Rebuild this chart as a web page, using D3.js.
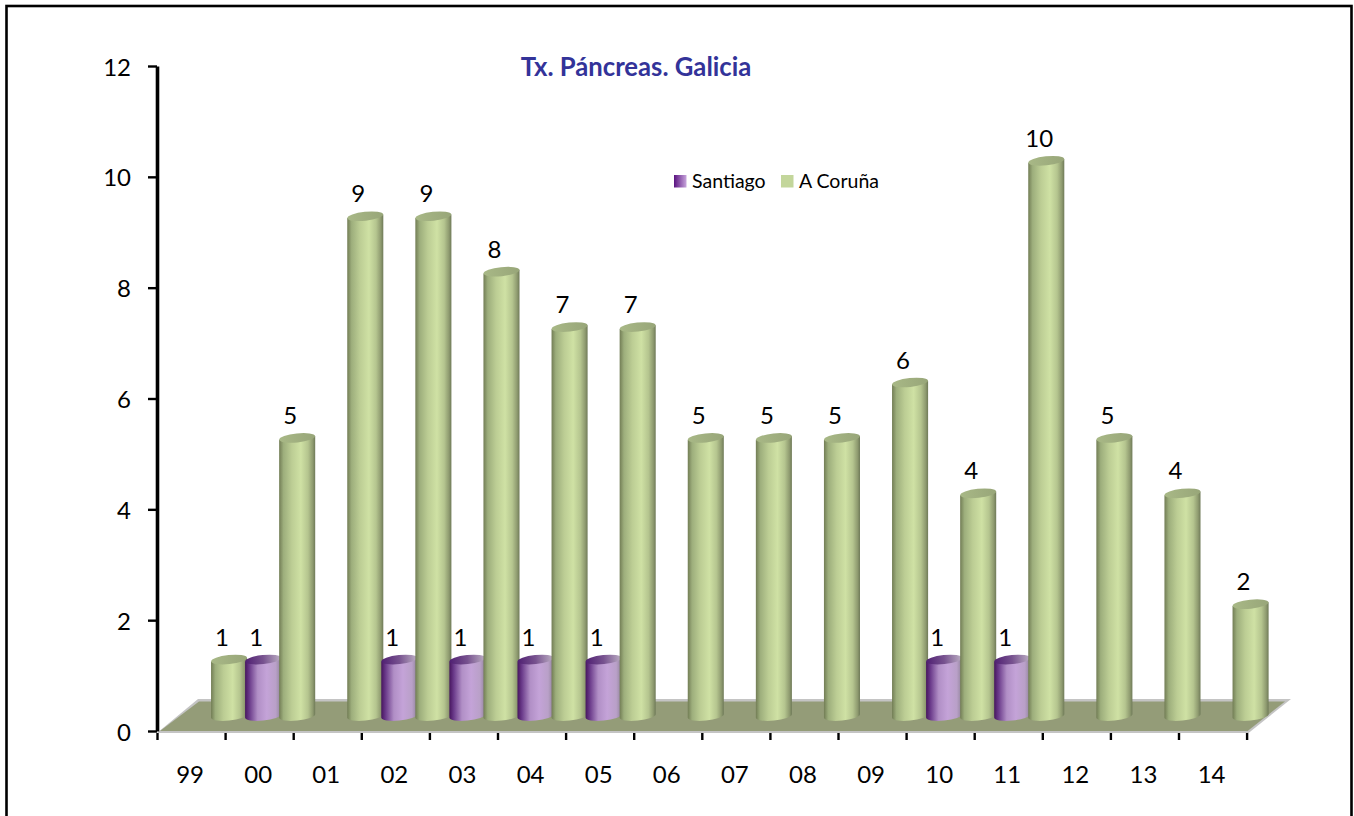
<!DOCTYPE html>
<meta charset="utf-8">
<style>
    body { margin: 0; background: #fff; }
    text { font-family: Lato, sans-serif; fill: #000; }
    .axis path, .axis line { stroke: #000; }
</style>

<svg width="1354" height="816"></svg>

<script src="https://d3js.org/d3.v7.min.js"></script>

<script>
    var years = ["99", "00", "01", "02", "03", "04", "05", "06", "07", "08", "09", "10", "11", "12", "13", "14"];
    var seriesNames = ["Santiago", "A Coruña"];
    var santiago = [0, 1, 0, 1, 1, 1, 1, 0, 0, 0, 0, 1, 1, 0, 0, 0];
    var coruna = [1, 5, 9, 9, 8, 7, 7, 5, 5, 5, 6, 4, 10, 5, 4, 2];
    var yTicks = [0, 2, 4, 6, 8, 10, 12];

    var svg = d3.select("svg"),
        width = +svg.attr("width"),
        height = +svg.attr("height");

    var x0 = 157, x1 = 1246.6, y0 = 731, yTop = 66;
    var depthX = 20, depthY = 15;   // how far the bars sit back on the floor

    var x = d3.scaleBand().domain(years).range([x0, x1]);
    var xSeries = d3.scaleBand().domain(seriesNames).range([depthX, depthX + x.bandwidth()]);
    var xEdges = d3.scaleLinear().domain([0, years.length]).range([x0, x1]);
    var y = d3.scaleLinear().domain([0, 12]).range([y0, yTop]);

    function gradient(id, stops) {
        var g = defs.append("linearGradient").attr("id", id);
        stops.forEach(function (s) {
            g.append("stop").attr("offset", s[0]).attr("stop-color", s[1]);
        });
    }

    var defs = svg.append("defs");
    gradient("greenBody", [[0, "#727d55"], [0.12, "#9dae7c"], [0.35, "#bccd94"], [0.6, "#cfe1a4"], [0.8, "#b5c58f"], [0.93, "#8f9b70"], [1, "#6f7a58"]]);
    gradient("greenCap", [[0, "#a8b886"], [1, "#98a679"]]);
    gradient("purpleBody", [[0, "#47155f"], [0.12, "#6a3a8a"], [0.35, "#b18fc6"], [0.6, "#c4a3d8"], [0.85, "#b9a0c8"], [1, "#8f8299"]]);
    gradient("purpleCap", [[0, "#4f1f72"], [0.5, "#77528f"], [1, "#bdb0c4"]]);
    gradient("purpleKey", [[0, "#5a1280"], [1, "#c8a6dc"]]);

    // frame
    svg.append("rect")
        .attr("x", 6.5).attr("y", 6)
        .attr("width", 1345).attr("height", 820)
        .attr("fill", "none").attr("stroke", "#000").attr("stroke-width", 2.6);

    // floor
    svg.append("path")
        .attr("d", "M" + x0 + "," + (y0 + 2) + "L" + (x1 + 2) + "," + (y0 + 2) + "L1291,699L198,699Z")
        .attr("fill", "#c4c4c4");
    svg.append("path")
        .attr("d", "M" + (x0 + 3) + "," + y0 + "L" + (x1 + 1) + "," + y0 + "L1285,701.5L199,701.5Z")
        .attr("fill", "#949c78");

    // axes
    var yAxis = d3.axisLeft(y).tickValues(yTicks).tickSize(9).tickPadding(17).tickSizeOuter(0);
    var yG = svg.append("g").attr("class", "axis").attr("transform", "translate(" + x0 + ",0)").call(yAxis);
    yG.select(".domain").attr("stroke-width", 3.6);
    yG.selectAll(".tick line").attr("stroke-width", 2.4);
    yG.selectAll("text").attr("font-size", 24).attr("font-family", "Lato").attr("dy", "0.38em");

    var xAxis = d3.axisBottom(xEdges).ticks(years.length).tickSize(7).tickSizeOuter(0).tickFormat("");
    var xG = svg.append("g").attr("class", "axis").attr("transform", "translate(0," + (y0 + 2) + ")").call(xAxis);
    xG.select(".domain").remove();
    xG.selectAll(".tick line").attr("stroke-width", 2.4);

    svg.append("g").selectAll("text")
        .data(years)
        .enter().append("text")
        .attr("x", function (d) { return x(d) + x.bandwidth() / 2 - 1; })
        .attr("y", 783)
        .attr("text-anchor", "middle")
        .attr("font-size", 24)
        .text(function (d) { return d; });

    // flatten the two series, skip the empty ones
    var bars = [];
    years.forEach(function (yr, i) {
        if (santiago[i] > 0) bars.push({ year: yr, name: seriesNames[0], value: santiago[i], body: "purpleBody", cap: "purpleCap" });
        if (coruna[i] > 0) bars.push({ year: yr, name: seriesNames[1], value: coruna[i], body: "greenBody", cap: "greenCap" });
    });

    // bars run a little wider than their slot, the next one drawn covers the overlap
    var w = xSeries.bandwidth() + 2, rx = w / 2, ry = 4.5, tilt = 1.8, baseY = y(0) - depthY;

    function barLeft(d) { return x(d.year) + xSeries(d.name); }
    function barTop(d) { return y(d.value) - depthY - 1; }

    var bar = svg.append("g").selectAll("g")
        .data(bars)
        .enter().append("g");

    bar.append("path")
        .attr("d", function (d) {
            var l = barLeft(d), r = l + w;
            return "M" + l + "," + (barTop(d) + tilt) +
                "L" + l + "," + (baseY + tilt) +
                "A" + rx + "," + ry + ",-6,0,0," + r + "," + (baseY - tilt) +
                "L" + r + "," + (barTop(d) - tilt) + "Z";
        })
        .attr("fill", function (d) { return "url(#" + d.body + ")"; });

    bar.append("ellipse")
        .attr("cx", 0).attr("cy", 0)
        .attr("rx", rx).attr("ry", ry)
        .attr("transform", function (d) {
            return "translate(" + (barLeft(d) + rx) + "," + barTop(d) + ") rotate(-6)";
        })
        .attr("fill", function (d) { return "url(#" + d.cap + ")"; });

    bar.append("text")
        .attr("x", function (d) { return barLeft(d) + 11; })
        .attr("y", function (d) { return y(d.value) - 30; })
        .attr("text-anchor", "middle")
        .attr("font-size", 24)
        .text(function (d) { return d.value; });

    // title
    svg.append("text")
        .attr("x", 636).attr("y", 76)
        .attr("text-anchor", "middle")
        .attr("font-size", 25.7).attr("font-weight", "bold")
        .style("fill", "#333399")
        .text("Tx. Páncreas. Galicia");

    // legend
    var legendX = [674, 781];
    var legend = svg.append("g").selectAll("g")
        .data(seriesNames)
        .enter().append("g")
        .attr("transform", function (d, i) { return "translate(" + legendX[i] + ",175)"; });

    legend.append("rect")
        .attr("width", 12.5).attr("height", 12.5)
        .attr("fill", function (d, i) { return i === 0 ? "url(#purpleKey)" : "#c3d69b"; });

    legend.append("text")
        .attr("x", 18).attr("y", 12.5)
        .attr("font-size", 19.5)
        .text(function (d) { return d; });
</script>
